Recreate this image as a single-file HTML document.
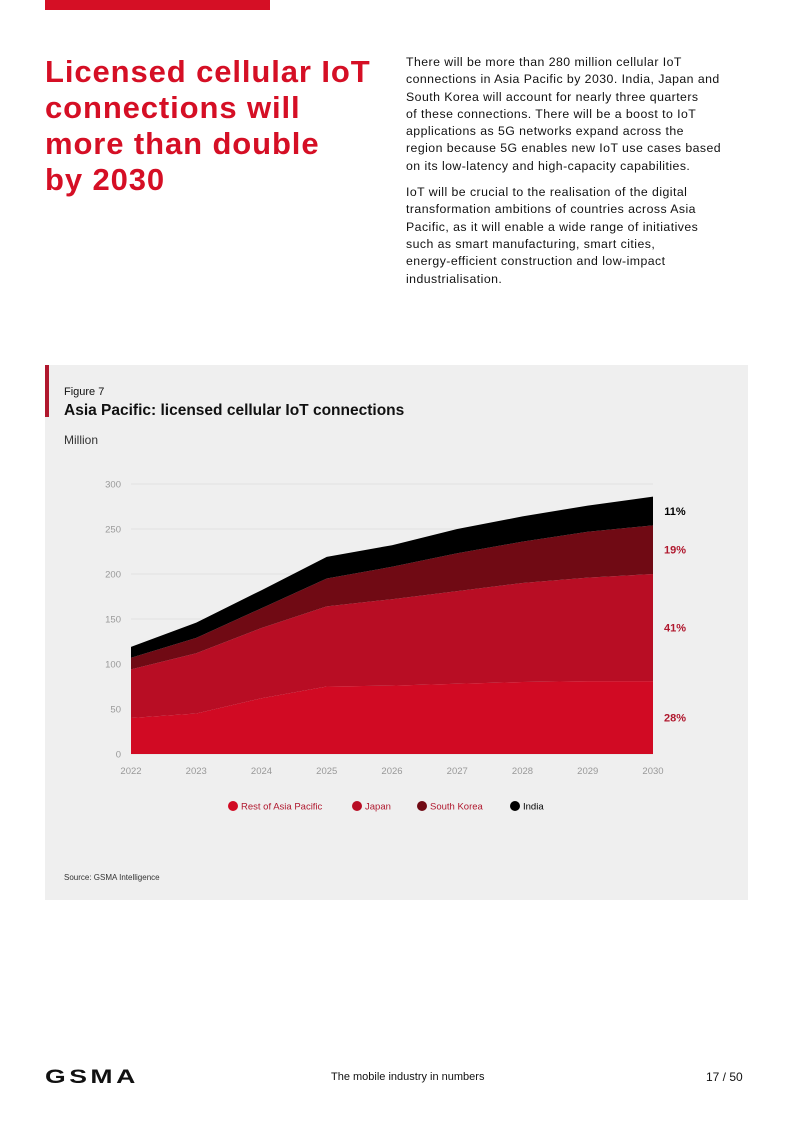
<!DOCTYPE html>
<html><head><meta charset="utf-8"><style>
body{margin:0;width:793px;height:1122px;background:#fff;position:relative;font-family:"Liberation Sans",sans-serif;overflow:hidden}
.abs{position:absolute}
</style></head><body>
<div class="abs" style="left:45px;top:0;width:225px;height:10px;background:#d50f25"></div>
<div class="abs" style="left:45px;top:54px;width:360px;font-size:31px;font-weight:bold;color:#d50f25;line-height:36px;white-space:nowrap;letter-spacing:0.9px">Licensed cellular IoT<br>connections will<br>more than double<br>by 2030</div>
<div class="abs" style="left:406px;top:54px;width:360px;font-size:12.3px;color:#111;line-height:17.3px;white-space:nowrap;letter-spacing:0.45px">
<p style="margin:0 0 9px">There will be more than 280 million cellular IoT<br>connections in Asia Pacific by 2030. India, Japan and<br>South Korea will account for nearly three quarters<br>of these connections. There will be a boost to IoT<br>applications as 5G networks expand across the<br>region because 5G enables new IoT use cases based<br>on its low-latency and high-capacity capabilities.</p>
<p style="margin:0">IoT will be crucial to the realisation of the digital<br>transformation ambitions of countries across Asia<br>Pacific, as it will enable a wide range of initiatives<br>such as smart manufacturing, smart cities,<br>energy-efficient construction and low-impact<br>industrialisation.</p></div>
<div class="abs" style="left:45px;top:365px;width:703px;height:535px;background:#efefef"></div>
<div class="abs" style="left:45px;top:365px;width:4px;height:52px;background:#b0182e"></div>
<div class="abs" style="left:64px;top:386px;font-size:11px;color:#111">Figure 7</div>
<div class="abs" style="left:64px;top:402px;font-size:15.5px;font-weight:bold;color:#111">Asia Pacific: licensed cellular IoT connections</div>
<div class="abs" style="left:64px;top:433px;font-size:12px;color:#333">Million</div>
<svg class="abs" style="left:0;top:0" width="793" height="1122" id="chart"></svg>
<div class="abs" style="left:64px;top:873px;font-size:8px;color:#333">Source: GSMA Intelligence</div>
<div class="abs" style="left:45px;top:1067px;font-size:19px;font-weight:bold;color:#111;letter-spacing:2.5px;transform:scaleX(1.4);transform-origin:left">GSMA</div>
<div class="abs" style="left:331px;top:1071px;font-size:11px;color:#111">The mobile industry in numbers</div>
<div class="abs" style="left:706px;top:1070px;font-size:12px;color:#111">17 / 50</div>
<script>
const years=[2022,2023,2024,2025,2026,2027,2028,2029,2030];
const rest=[40,45,62,75,76,78,80,81,81];
const japan=[54,67,78,89,96,103,110,115,119];
const korea=[13,17,22,31,36,42,46,51,54];
const india=[12,17,20,24,24,27,28,29,32];
const yTicks=[0,50,100,150,200,250,300];
const shares=["28%","41%","19%","11%"];
const seriesNames=["Rest of Asia Pacific","Japan","South Korea","India"];
const colors=["#d10a23","#b80d24","#700a14","#000"];
const labelColors=["#b0182e","#b0182e","#b0182e","#000"];
const svg=document.getElementById('chart');const NS='http://www.w3.org/2000/svg';
const X=y=>131+(y-2022)*65.25, Y=v=>754-v*0.9;
function mk(t,a){const e=document.createElementNS(NS,t);for(const k in a)e.setAttribute(k,a[k]);svg.appendChild(e);return e;}
yTicks.forEach(t=>{
 const g=mk('line',{x1:131,x2:653,y1:Y(t),y2:Y(t),stroke:'#e2e2e2','stroke-width':1});
 
 
 const l=mk('text',{x:121,y:Y(t)+3.5,'text-anchor':'end','font-size':9.5,fill:'#999','font-family':'Liberation Sans'});l.textContent=t;
 
 
});
years.forEach(y=>{const l=mk('text',{x:X(y),y:774,'text-anchor':'middle','font-size':9.5,fill:'#999','font-family':'Liberation Sans'});l.textContent=y;
 
 });
const series=[rest,japan,korea,india];let base=years.map(()=>0);
series.forEach((s,i)=>{const top=base.map((b,j)=>b+s[j]);
 let d='M'+years.map((y,j)=>X(y)+','+Y(top[j])).join('L');
 for(let j=years.length-1;j>=0;j--)d+='L'+X(years[j])+','+Y(base[j]);
 const p=mk('path',{d:d+'Z',fill:colors[i]});
 
 
 const n=years.length-1;
 const t=mk('text',{x:675,y:Y((base[n]+top[n])/2)+4,'text-anchor':'middle','font-size':11,'font-weight':'bold',fill:labelColors[i],'font-family':'Liberation Sans'});t.textContent=shares[i];
 
 
 base=top;});
const lx=[233,357,422,515];
seriesNames.forEach((n,i)=>{const c=mk('circle',{cx:lx[i],cy:806,r:5,fill:colors[i]});
 
 
 const t=mk('text',{x:lx[i]+8,y:809.5,'font-size':9.5,fill:i==3?'#000':'#b0182e','font-family':'Liberation Sans'});t.textContent=n;
 
 });
</script>
</body></html>
